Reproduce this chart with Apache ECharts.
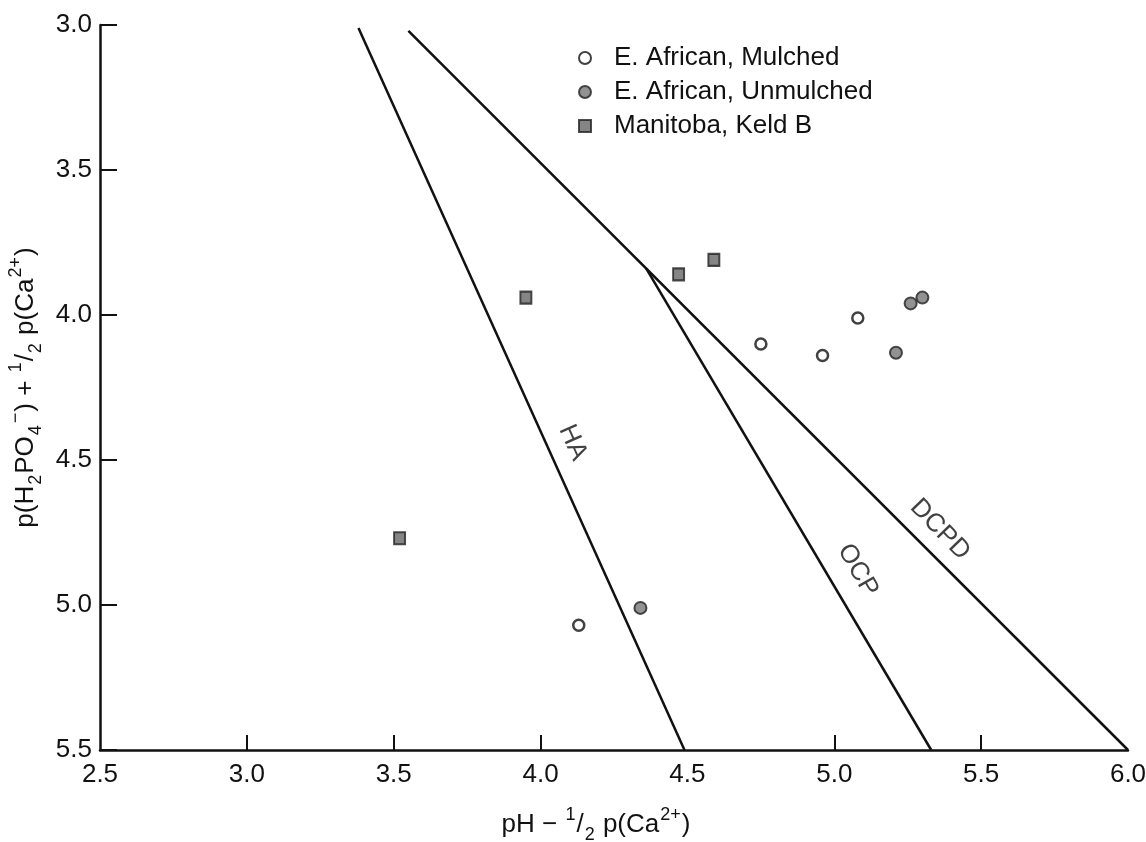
<!DOCTYPE html>
<html>
<head>
<meta charset="UTF-8">
<title>Phosphate solubility diagram</title>
<script type="text/javascript" src="https://cdn.jsdelivr.net/npm/echarts@6/dist/echarts.min.js"></script>
<style>
    *{margin:0;padding:0}
    html,body{width:100%;height:100%;background:#fff}
    #main{width:1146px;height:842px}
</style>
</head>
<body>
<div id="main"></div>
<script type="text/javascript">
// x = pH - 1/2 p(Ca2+),  y = p(H2PO4-) + 1/2 p(Ca2+)
var mulched   = [[4.75, 4.10], [4.96, 4.14], [5.08, 4.01], [4.13, 5.07]];
var unmulched = [[5.21, 4.13], [5.26, 3.96], [5.30, 3.94], [4.34, 5.01]];
var manitoba  = [[3.95, 3.94], [4.47, 3.86], [4.59, 3.81], [3.52, 4.77]];

// solubility lines
var lineHA   = [[3.38, 3.01], [4.49, 5.5]];
var lineOCP  = [[4.36, 3.84], [5.33, 5.5]];
var lineDCPD = [[3.55, 3.02], [6.0, 5.5]];

// line labels: [x, y, text, angle]
var lineLabels = [
    [4.11, 4.44, 'HA', -66],
    [5.08, 4.88, 'OCP', -60],
    [5.36, 4.74, 'DCPD', -46]
];

var xTicks = [3.0, 3.5, 4.0, 5.0, 5.5];

var FONT = 'Liberation Sans';
var subSup = {
    base: {fontSize: 26, fontFamily: FONT, color: '#111', lineHeight: 38},
    sub: {fontSize: 18, fontFamily: FONT, color: '#111', lineHeight: 38, verticalAlign: 'bottom', padding: [0, 1, 0, 1]},
    sup: {fontSize: 18, fontFamily: FONT, color: '#111', lineHeight: 38, verticalAlign: 'top', padding: [0, 1, 0, 1]}
};

function solLine(d) {
    return {
        type: 'line', data: d, symbol: 'none', silent: true,
        lineStyle: {color: '#111', width: 2.5}, z: 1
    };
}

var option = {
    backgroundColor: '#fff',
    animation: false,
    grid: {left: 100, right: 18, top: 25, bottom: 92, outerBoundsMode: 'none'},
    legend: {
        orient: 'vertical',
        left: 573, top: 40,
        itemGap: 8,
        itemWidth: 12, itemHeight: 12,
        data: ['E. African, Mulched', 'E. African, Unmulched', 'Manitoba, Keld B'],
        textStyle: {fontSize: 26, fontFamily: FONT, color: '#111', padding: [0, 0, 0, 18]}
    },
    xAxis: {
        type: 'value', min: 2.5, max: 6.0, interval: 0.5,
        axisLine: {lineStyle: {color: '#111', width: 2.5}},
        axisTick: {inside: true, length: 15, lineStyle: {color: '#111', width: 2}, customValues: xTicks},
        axisLabel: {fontSize: 26, fontFamily: FONT, color: '#111', margin: 12,
            formatter: function (v) { return v.toFixed(1); }},
        splitLine: {show: false},
        name: '{base|pH − }{sup|1}{base|/}{sub|2}{base| p(Ca}{sup|2+}{base|)}',
        nameLocation: 'middle', nameGap: 56,
        nameTextStyle: {rich: subSup, padding: [0, 36, 0, 0]}
    },
    yAxis: {
        type: 'value', min: 3.0, max: 5.5, interval: 0.5, inverse: true,
        axisLine: {lineStyle: {color: '#111', width: 2.5}},
        axisTick: {inside: true, length: 17, lineStyle: {color: '#111', width: 2}},
        axisLabel: {fontSize: 26, fontFamily: FONT, color: '#111', margin: 8,
            formatter: function (v) { return v.toFixed(1); }},
        splitLine: {show: false},
        name: '{base|p(H}{sub|2}{base|PO}{sub|4}{sup|−}{base|) + }{sup|1}{base|/}{sub|2}{base| p(Ca}{sup|2+}{base|)}',
        nameLocation: 'middle', nameGap: 54, nameRotate: 90,
        nameTextStyle: {rich: subSup}
    },
    series: [
        solLine(lineHA),
        solLine(lineOCP),
        solLine(lineDCPD),
        {
            type: 'scatter', silent: true, z: 3,
            symbolSize: 0,
            data: lineLabels.map(function (l) {
                return {
                    value: [l[0], l[1]],
                    label: {show: true, position: 'inside', formatter: l[2], rotate: l[3],
                        fontSize: 26, fontFamily: FONT, color: '#111'}
                };
            })
        },
        {
            name: 'E. African, Mulched', type: 'scatter', data: mulched, z: 4,
            symbol: 'circle', symbolSize: 11,
            itemStyle: {color: '#fff', borderColor: '#111', borderWidth: 2.5}
        },
        {
            name: 'E. African, Unmulched', type: 'scatter', data: unmulched, z: 4,
            symbol: 'circle', symbolSize: 12,
            itemStyle: {color: '#777', borderColor: '#222', borderWidth: 2}
        },
        {
            name: 'Manitoba, Keld B', type: 'scatter', data: manitoba, z: 4,
            symbol: 'rect', symbolSize: [11, 12],
            itemStyle: {color: '#666', borderColor: '#222', borderWidth: 2}
        }
    ]
};

var myChart = echarts.init(document.getElementById('main'));
myChart.setOption(option);
</script>
</body>
</html>
